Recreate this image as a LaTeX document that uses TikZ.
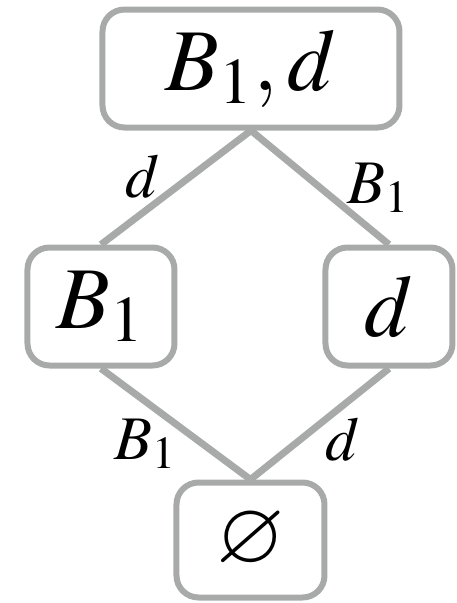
\documentclass[tikz,border=0pt]{standalone}
\usepackage{amssymb}
\usepackage{mathptmx}
\usetikzlibrary{positioning}
\definecolor{edgegray}{RGB}{168,170,169}

\begin{document}
\begin{tikzpicture}[
  x=0.25pt, y=-0.25pt,
  font=\fontsize{22}{26}\selectfont,
  set/.style={draw=edgegray, line width=1.5pt, rounded corners=5.5pt, inner sep=0pt, minimum height=29.5pt},
  link/.style={edgegray, line width=1.75pt},
  lbl/.style={text=black, font=\fontsize{15.5}{18}\selectfont, inner sep=0pt}
]
\useasboundingbox (0,0) rectangle (457,603);
\node[set, minimum width=74.25pt] (full) at (251,68.5) {$B_1, d$};
\node[set, minimum width=36.75pt] (bone) at (101,306.5) {$B_1$};
\node[set, minimum width=31.75pt] (dee) at (389,306.5) {$d$};
\node[set, minimum width=37pt, minimum height=28.75pt] (empty) at (250.5,540) {$\varnothing$};

\draw[link] (full.south) -- node[lbl, pos=0.6, shift={(-18,-22)}] {$d$} (bone.north);
\draw[link] (full.south) -- node[lbl, pos=0.6, shift={(45,-11)}] {$B_1$} (dee.north);
\draw[link] (bone.south) -- node[lbl, pos=0.6, shift={(-45,9)}] {$B_1$} (empty.north);
\draw[link] (dee.south) -- node[lbl, pos=0.6, shift={(37,4)}] {$d$} (empty.north);
\end{tikzpicture}
\end{document}
